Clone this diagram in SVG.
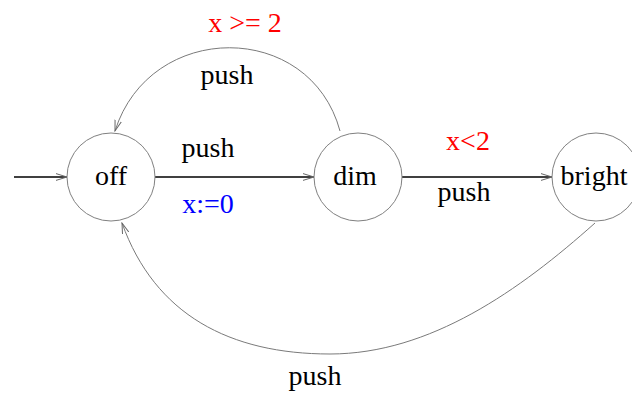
<svg xmlns="http://www.w3.org/2000/svg" width="632" height="396" viewBox="0 0 632 396">
<style>
.state{fill:#fff;stroke:#808080;stroke-width:1}
.lbl{font-family:"Liberation Serif","Times New Roman",serif;font-size:28px;text-anchor:middle;fill:#000}
.red{fill:#ff0000}
.blue{fill:#0000ff}
.edge{fill:none;stroke:#000;stroke-width:1.4}
.arc{fill:none;stroke:#7a7a7a;stroke-width:1}
</style>
<defs>
<marker id="ah" markerUnits="userSpaceOnUse" markerWidth="12" markerHeight="8" refX="11" refY="4" orient="auto">
<path d="M0,0.6 L11,4 L0,7.4" fill="none" stroke="#666" stroke-width="1"/>
</marker>
</defs>
<g id="connectors">
<line class="edge" x1="14" y1="177" x2="67" y2="177" marker-end="url(#ah)"/>
<line class="edge" x1="155" y1="177" x2="314" y2="177" marker-end="url(#ah)"/>
<line class="edge" x1="402" y1="177" x2="552" y2="177" marker-end="url(#ah)"/>
<path class="arc" d="M340,131 C310,20 150,20 115,131" marker-end="url(#ah)"/>
<path class="arc" d="M595,223 C520,290 430,354 330,354 C230,354 155,315 122,223" marker-end="url(#ah)"/>
</g>
<g id="off">
<circle class="state" cx="111" cy="177" r="44"/>
<text class="lbl" x="111" y="185">off</text>
</g>
<g id="dim">
<circle class="state" cx="358" cy="177" r="44"/>
<text class="lbl" x="355" y="185">dim</text>
</g>
<g id="bright">
<circle class="state" cx="596" cy="177" r="44"/>
<text class="lbl" x="594" y="185">bright</text>
</g>
<g id="labels">
<text class="lbl red" x="245" y="32">x &gt;= 2</text>
<text class="lbl" x="227" y="84">push</text>
<text class="lbl" x="208" y="157">push</text>
<text class="lbl blue" x="208" y="213">x:=0</text>
<text class="lbl red" x="468" y="150">x&lt;2</text>
<text class="lbl" x="464" y="201">push</text>
<text class="lbl" x="315" y="385">push</text>
</g>
</svg>
